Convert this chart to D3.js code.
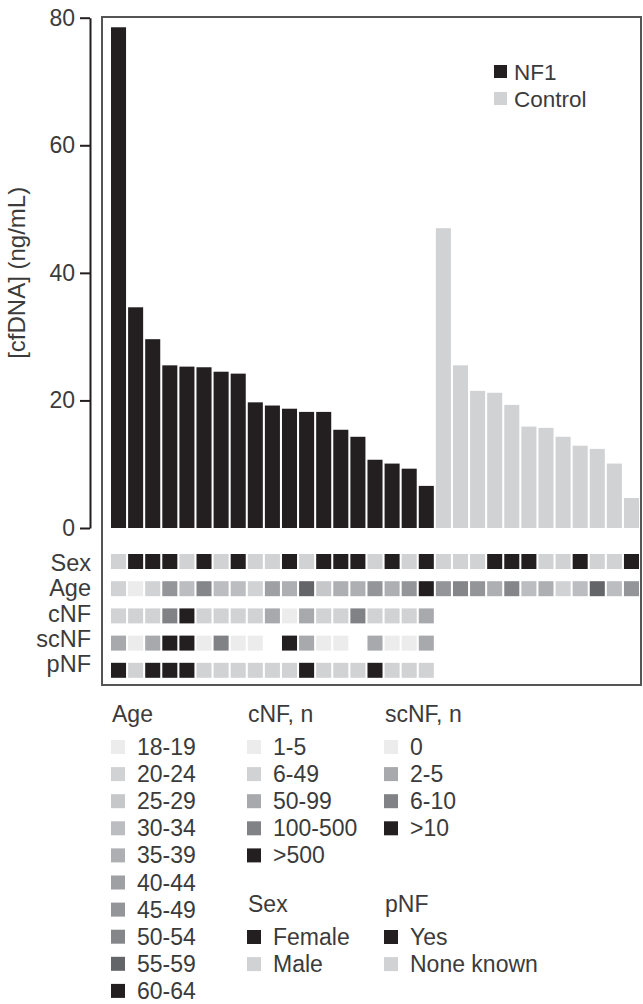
<!DOCTYPE html>
<html>
<head>
<meta charset="utf-8">
<script src="https://cdn.jsdelivr.net/npm/d3@7"></script>
<style>
  body { margin: 0; background: #fff; }
</style>
</head>
<body>
<svg id="svg" width="643" height="1004" font-family="Liberation Sans, Arial, Helvetica, sans-serif"></svg>
<script>
// cfDNA concentrations, sorted within each group
const nf1Values = [78.5, 34.6, 29.6, 25.5, 25.3, 25.2, 24.5, 24.2, 19.7, 19.2, 18.7, 18.2, 18.2, 15.4, 14.3, 10.7, 10.1, 9.3, 6.6];
const controlValues = [47.0, 25.5, 21.5, 21.2, 19.3, 15.9, 15.7, 14.3, 12.9, 12.4, 10.1, 4.7];

// per-sample annotations (NF1 first, then controls)
const sexData = ["Male","Female","Female","Female","Male","Female","Male","Female","Male","Male","Female","Male","Female","Female","Female","Male","Female","Male","Female",
                 "Male","Male","Male","Female","Female","Female","Male","Male","Female","Male","Male","Female"];
const ageData = ["20-24","18-19","20-24","45-49","30-34","50-54","30-34","30-34","20-24","40-44","35-39","55-59","25-29","35-39","35-39","45-49","35-39","45-49","60-64",
                 "45-49","50-54","45-49","35-39","50-54","30-34","35-39","20-24","30-34","55-59","30-34","45-49"];
const cnfData = ["6-49","6-49","6-49","100-500",">500","6-49","6-49","6-49","6-49","50-99","1-5","50-99","6-49","6-49","100-500","6-49","6-49","6-49","50-99"];
const scnfData = ["2-5","0","2-5",">10",">10","0","6-10","0","0",null,">10","2-5","0","0",null,"2-5","0","0","2-5"];
const pnfData = ["Yes","None known","Yes","Yes","Yes","None known","None known","None known","None known","None known","None known","Yes","None known","None known","None known","Yes","None known","None known","None known"];

const rowNames = ["Sex", "Age", "cNF", "scNF", "pNF"];
const yTicks = [0, 20, 40, 60, 80];

const ageLevels = ["18-19","20-24","25-29","30-34","35-39","40-44","45-49","50-54","55-59","60-64"];
const ageColors = ["#ececed","#d1d2d4","#c6c7c9","#bcbdc0","#aeafb2","#9fa0a3","#939598","#858689","#646569","#231f20"];
const cnfLevels = ["1-5","6-49","50-99","100-500",">500"];
const cnfColors = ["#ececed","#d1d2d4","#a7a9ac","#808285","#231f20"];
const scnfLevels = ["0","2-5","6-10",">10"];
const scnfColors = ["#ececed","#a7a9ac","#808285","#231f20"];
const sexLevels = ["Female","Male"];
const sexColors = ["#231f20","#d1d2d4"];
const pnfLevels = ["Yes","None known"];
const pnfColors = ["#231f20","#d1d2d4"];
const groupNames = ["NF1","Control"];
const groupColors = ["#231f20","#d1d2d4"];

const textColor = "#3b3b3b";
const svg = d3.select("#svg");

const samples = nf1Values.map(v => ({group: "NF1", value: v}))
  .concat(controlValues.map(v => ({group: "Control", value: v})));
samples.forEach((d, i) => {
  d.id = i;
  d.Sex = sexData[i];
  d.Age = ageData[i];
  d.cNF = i < cnfData.length ? cnfData[i] : null;
  d.scNF = i < scnfData.length ? scnfData[i] : null;
  d.pNF = i < pnfData.length ? pnfData[i] : null;
});

const x = d3.scaleBand().domain(samples.map(d => d.id)).range([111, 639]).paddingInner(0.12).paddingOuter(0);
const y = d3.scaleLinear().domain([0, 80]).range([528, 17.7]);
const groupColor = d3.scaleOrdinal(groupNames, groupColors);

const scales = {
  Sex: d3.scaleOrdinal(sexLevels, sexColors),
  Age: d3.scaleOrdinal(ageLevels, ageColors),
  cNF: d3.scaleOrdinal(cnfLevels, cnfColors),
  scNF: d3.scaleOrdinal(scnfLevels, scnfColors),
  pNF: d3.scaleOrdinal(pnfLevels, pnfColors)
};

// frame
svg.append("rect")
  .attr("x", 102).attr("y", 17)
  .attr("width", 539).attr("height", 668)
  .attr("fill", "none").attr("stroke", "#555").attr("stroke-width", 2);

// bars
svg.append("g")
  .selectAll("rect")
  .data(samples)
  .join("rect")
  .attr("x", d => x(d.id))
  .attr("y", d => y(d.value))
  .attr("width", x.bandwidth())
  .attr("height", d => y(0) - y(d.value))
  .attr("fill", d => groupColor(d.group));

// y axis
const yAxis = svg.append("g")
  .attr("transform", "translate(90,0)")
  .call(d3.axisLeft(y).tickValues(yTicks).tickSize(10).tickSizeOuter(0).tickPadding(5));
yAxis.select(".domain").attr("stroke", "#231f20").attr("stroke-width", 2);
yAxis.selectAll(".tick line").attr("stroke", "#231f20").attr("stroke-width", 2);
yAxis.selectAll(".tick text").attr("font-size", 23).attr("fill", textColor)
  .attr("font-family", "Liberation Sans, Arial, Helvetica, sans-serif");

svg.append("text")
  .attr("transform", `translate(25,${y(40)}) rotate(-90)`)
  .attr("text-anchor", "middle")
  .attr("font-size", 24)
  .attr("fill", textColor)
  .text("[cfDNA] (ng/mL)");

// group legend
const gLeg = svg.append("g").attr("transform", "translate(494,72)");
const gRow = gLeg.selectAll("g").data(groupNames).join("g")
  .attr("transform", (d, i) => `translate(0,${i * 27})`);
gRow.append("rect").attr("y", -7).attr("width", 13).attr("height", 13).attr("fill", d => groupColor(d));
gRow.append("text").attr("x", 20).attr("dy", "0.35em").attr("font-size", 22.5).attr("fill", textColor).text(d => d);

// annotation heatmap
const rowY = d3.scaleBand().domain(rowNames).range([554, 677.8]).paddingInner(0.449).paddingOuter(0);
const labelY = d3.scalePoint().domain(rowNames).range([563, 664]);

const rows = svg.append("g").selectAll("g")
  .data(rowNames)
  .join("g");

rows.selectAll("rect")
  .data(r => samples.filter(d => d[r] != null).map(d => ({row: r, id: d.id, val: d[r]})))
  .join("rect")
  .attr("x", d => x(d.id))
  .attr("y", d => rowY(d.row))
  .attr("width", x.bandwidth())
  .attr("height", rowY.bandwidth())
  .attr("fill", d => scales[d.row](d.val));

svg.append("g").selectAll("text")
  .data(rowNames)
  .join("text")
  .attr("x", 91)
  .attr("y", d => labelY(d))
  .attr("dy", "0.35em")
  .attr("text-anchor", "end")
  .attr("font-size", 23.5)
  .attr("fill", textColor)
  .text(d => d);

// bottom legends
const itemStep = 27.1;
function legendBlock(title, levels, colors, x0, y0) {
  const g = svg.append("g").attr("transform", `translate(${x0},${y0})`);
  g.append("text").attr("x", 1).attr("dy", "0.35em").attr("font-size", 23).attr("fill", textColor).text(title);
  const item = g.selectAll("g").data(levels).join("g")
    .attr("transform", (d, i) => `translate(0,${33 + i * itemStep})`);
  item.append("rect").attr("y", -7).attr("width", 14).attr("height", 14).attr("fill", (d, i) => colors[i]);
  item.append("text").attr("x", 26).attr("dy", "0.35em").attr("font-size", 23).attr("fill", textColor).text(d => d);
}

legendBlock("Age", ageLevels, ageColors, 111, 714);
legendBlock("cNF, n", cnfLevels, cnfColors, 247, 714);
legendBlock("scNF, n", scnfLevels, scnfColors, 384, 714);
legendBlock("Sex", sexLevels, sexColors, 247, 904);
legendBlock("pNF", pnfLevels, pnfColors, 384, 904);
</script>
</body>
</html>
